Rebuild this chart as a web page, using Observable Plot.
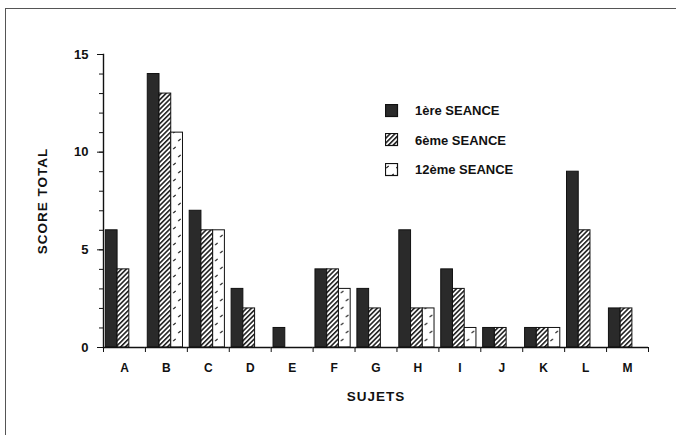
<!DOCTYPE html>
<html>
<head>
<meta charset="utf-8">
<script src="https://cdn.jsdelivr.net/npm/d3@7"></script>
<script src="https://cdn.jsdelivr.net/npm/@observablehq/plot@0.6"></script>
<style>
  html, body { margin: 0; padding: 0; background: #fff; }
  #wrap { position: relative; width: 676px; height: 435px; overflow: hidden;
          font-family: "Liberation Sans", Arial, sans-serif; }
  #border { position: absolute; left: 5px; top: 8px; width: 700px; height: 460px;
            border-left: 1.5px solid #555; border-top: 1.5px solid #555; }
  #chart { position: absolute; left: 0; top: 0; }
  #legend { position: absolute; left: 385px; top: 104px; }
  .row { display: flex; align-items: center; height: 29.5px; margin-top: -8px; margin-bottom: 8px; }
  .row svg { display: block; margin-right: 16px; }
  .row span { font-weight: bold; font-size: 13px; color: #111; }
</style>
</head>
<body>
<svg width="0" height="0" style="position:absolute">
  <defs>
    <pattern id="hatch" patternUnits="userSpaceOnUse" width="3.4" height="3.4" patternTransform="rotate(45)">
      <rect width="3.4" height="3.4" fill="#fff"></rect>
      <line x1="0.8" y1="0" x2="0.8" y2="3.4" stroke="#111" stroke-width="1.5"></line>
    </pattern>
    <pattern id="dots" patternUnits="userSpaceOnUse" width="10" height="16">
      <rect width="10" height="16" fill="#fff"></rect>
      <line x1="1.3" y1="5.2" x2="3.7" y2="2.8" stroke="#111" stroke-width="1.1"></line>
      <line x1="6.3" y1="13.2" x2="8.7" y2="10.8" stroke="#111" stroke-width="1.1"></line>
    </pattern>
  </defs>
</svg>
<div id="wrap">
  <div id="border"></div>
  <div id="chart"></div>
  <div id="legend"></div>
</div>
<script>
// ---- data ----
const subjects = ["A", "B", "C", "D", "E", "F", "G", "H", "I", "J", "K", "L", "M"];
const seances = ["1ère SEANCE", "6ème SEANCE", "12ème SEANCE"];
const seance1 = [6, 14, 7, 3, 1, 4, 3, 6, 4, 1, 1, 9, 2];
const seance6 = [4, 13, 6, 2, 0, 4, 2, 2, 3, 1, 1, 6, 2];
const seance12 = [0, 11, 6, 0, 0, 3, 0, 2, 1, 0, 1, 0, 0];
const yTicks = [0, 5, 10, 15];
const yMinorTicks = [0, 1, 2, 3, 4, 5, 6, 7, 8, 9, 10, 11, 12, 13, 14, 15];
const fills = ["#2a2a2a", "url(#hatch)", "url(#dots)"];

const series = [seance1, seance6, seance12];
const data = [];
subjects.forEach((s, i) => {
  seances.forEach((se, j) => data.push({subject: s, seance: se, value: series[j][i]}));
});

const W = 676, H = 435, ML = 103, MR = 28, MT = 54, MB = 88;
const step = (W - ML - MR) / subjects.length;

const chart = Plot.plot({
  width: W, height: H,
  marginLeft: ML, marginRight: MR, marginTop: MT, marginBottom: MB,
  style: {fontFamily: "'Liberation Sans', Arial, sans-serif", fontWeight: "bold", fontSize: "12px",
          color: "#111", background: "transparent", overflow: "visible"},
  fx: {domain: subjects, padding: 0, round: false, range: [ML, W - MR], label: null},
  x: {domain: seances, paddingInner: 0, paddingOuter: 0.286, align: 0.35, round: false, axis: null},
  y: {domain: [0, 15], axis: null},
  color: {domain: seances, range: fills},
  marks: [
    Plot.barY(data, {fx: "subject", x: "seance", y: "value", fill: "seance", stroke: "#111", strokeWidth: 1}),
    Plot.ruleY([0], {stroke: "#111", strokeWidth: 1.4}),
    Plot.frame({anchor: "left", facetAnchor: "left", stroke: "#111", strokeWidth: 1.4}),
    Plot.axisY({ticks: yMinorTicks, tickSize: 4, fill: "none", label: null, stroke: "#111"}),
    Plot.axisY({ticks: yTicks, tickSize: 6, tickPadding: 9, stroke: "#111", fontSize: 13,
                label: "SCORE TOTAL", labelAnchor: "center", labelOffset: 66, labelArrow: "none"}),
    Plot.axisFx({anchor: "bottom", tickSize: 0, tickPadding: 16, fontSize: 12,
                 label: "SUJETS", labelAnchor: "center", labelOffset: 53, labelArrow: "none"}),
    Plot.axisFx({anchor: "bottom", tickSize: 5, fill: "none", label: null, dx: -step / 2, stroke: "#111"}),
    Plot.axisFx({anchor: "bottom", ticks: [subjects[subjects.length - 1]], tickSize: 5, fill: "none",
                 label: null, dx: step / 2, stroke: "#111"})
  ]
});
document.getElementById("chart").appendChild(chart);

// axis titles: larger with letter spacing
d3.select(chart).selectAll("text").each(function() {
  const t = this.textContent;
  if (t === "SCORE TOTAL" || t === "SUJETS") {
    d3.select(this).attr("font-size", 13.5).attr("letter-spacing", "1px");
  }
});

// legend
const legend = d3.select("#legend");
seances.forEach((se, j) => {
  const row = legend.append("div").attr("class", "row");
  const sw = row.append("svg").attr("width", 14).attr("height", 14);
  sw.append("rect").attr("x", 0.5).attr("y", 0.5).attr("width", 12).attr("height", 12)
    .attr("fill", fills[j]).attr("stroke", "#111").attr("stroke-width", 1.2);
  row.append("span").text(se);
});
</script>
</body>
</html>
